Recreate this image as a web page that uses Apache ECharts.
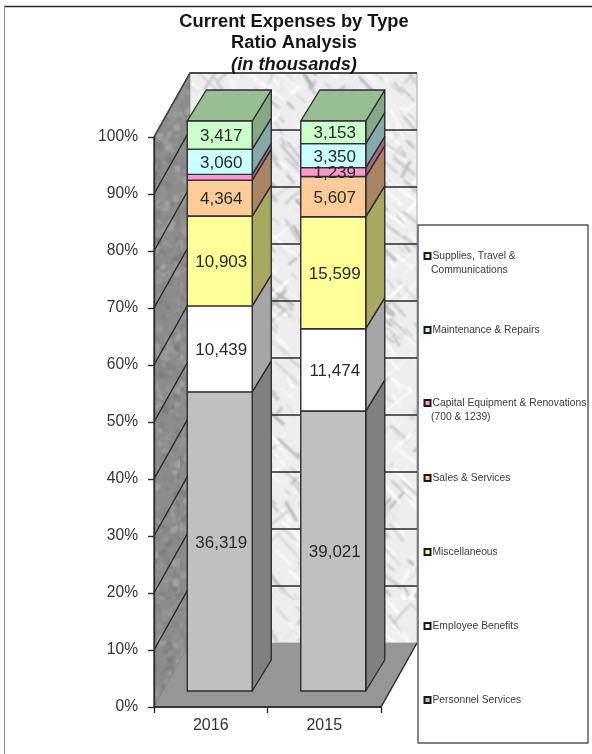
<!DOCTYPE html>
<html>
<head>
<meta charset="utf-8">
<style>html,body{margin:0;padding:0;background:#fff}#chart{width:592px;height:754px}</style>
<script src="https://cdn.jsdelivr.net/npm/echarts@6/dist/echarts.min.js"></script>
</head>
<body>
<div id="chart"></div>
<script>
// Fiscal years along the horizontal axis
const years = ['2016', '2015'];

// Amounts in thousands, one array per expense type, [2016, 2015]
const personnelServices = [36319, 39021];
const employeeBenefits = [10439, 11474];
const miscellaneous = [10903, 15599];
const salesServices = [4364, 5607];
const capitalEquipment = [700, 1239];
const maintenanceRepairs = [3060, 3350];
const suppliesTravel = [3417, 3153];

// Percent ticks on the value axis
const percentTicks = [0, 10, 20, 30, 40, 50, 60, 70, 80, 90, 100];

// Segment name, amounts, front, side colours; stacked from the floor up
const stackOrder = [
  ['Personnel Services', personnelServices, '#c0c0c0', '#808080'],
  ['Employee Benefits', employeeBenefits, '#ffffff', '#a6a6a6'],
  ['Miscellaneous', miscellaneous, '#ffff99', '#a8a862'],
  ['Sales & Services', salesServices, '#ffcc99', '#a98565'],
  ['Capital Equipment & Renovations\n(700 & 1239)', capitalEquipment, '#ff99cc', '#a96588'],
  ['Maintenance & Repairs', maintenanceRepairs, '#ccffff', '#86a8a8'],
  ['Supplies, Travel &\nCommunications', suppliesTravel, '#ccffcc', '#86a886']
];
const topFaceColor = '#98bf94';

// Legend rows, top to bottom, with the vertical centre of each first line
const legendRows = [
  ['Supplies, Travel &\nCommunications', 255],
  ['Maintenance & Repairs', 329],
  ['Capital Equipment & Renovations\n(700 & 1239)', 402],
  ['Sales & Services', 477],
  ['Miscellaneous', 551],
  ['Employee Benefits', 625],
  ['Personnel Services', 699]
];

// Oblique projection of the box: full depth of the walls, plus the bar placement inside it
const DEPTH = { x: 36, y: -64 };
const BAR_INSET = { x: 9, y: -16 };
const BAR_DEPTH = { x: 19, y: -31 };
const BAR_WIDTH = 65;
const LINE = '#2e2e2e';
const FONT = '"Liberation Sans", Arial, sans-serif';

// Small repeatable generator so the stone texture is the same on every load
function makeSequence(seed) {
  let s = seed;
  return function () {
    s = (s * 16807) % 2147483647;
    return s / 2147483647;
  };
}

// Paints a tile of veined stone used as the back wall fill
function veinedTile(width, height, base, shades, count, seed) {
  const next = makeSequence(seed);
  const tile = document.createElement('canvas');
  tile.width = width;
  tile.height = height;
  const ctx = tile.getContext('2d');
  ctx.fillStyle = base;
  ctx.fillRect(0, 0, width, height);
  ctx.filter = 'blur(1.2px)';
  ctx.lineCap = 'round';
  for (let i = 0; i < count; i++) {
    const x = next() * width;
    const y = next() * height;
    const length = 4 + next() * 18;
    const lean = 0.5 + next() * 0.9;
    const slant = next() < 0.75 ? 1 : -1;
    ctx.strokeStyle = shades[Math.floor(next() * shades.length)];
    ctx.lineWidth = 0.6 + next() * 2.4;
    ctx.beginPath();
    ctx.moveTo(x, y);
    ctx.lineTo(x + slant * length * lean, y + length);
    ctx.stroke();
  }
  return tile;
}

// Paints a tile of mottled dark stone used as the side wall fill
function mottledTile(width, height, base, shades, count, seed) {
  const next = makeSequence(seed);
  const tile = document.createElement('canvas');
  tile.width = width;
  tile.height = height;
  const ctx = tile.getContext('2d');
  ctx.fillStyle = base;
  ctx.fillRect(0, 0, width, height);
  ctx.filter = 'blur(1.3px)';
  for (let i = 0; i < count; i++) {
    ctx.fillStyle = shades[Math.floor(next() * shades.length)];
    ctx.beginPath();
    ctx.ellipse(next() * width, next() * height, 1 + next() * 4, 1 + next() * 3, next() * 3, 0, Math.PI * 2);
    ctx.fill();
  }
  return tile;
}

const backStone = veinedTile(240, 600, '#eeeef0',
  ['#bdbdc2', '#c8c8cc', '#d4d4d8', '#b3b3b8', '#ffffff', '#fbfbfb', '#ffffff'], 1100, 4711);
const sideStone = mottledTile(60, 600, '#8c8c8c',
  ['#7e7e7e', '#9a9a9a', '#858585', '#939393', '#a2a2a2'], 900, 1907);

// Running share of each year's total, in percent, for every segment
const yearTotals = years.map((_, i) => stackOrder.reduce((sum, row) => sum + row[1][i], 0));
const runningAmount = years.map(() => 0);

function poly(points, fill, z2) {
  return {
    type: 'polygon',
    z2: z2 || 0,
    shape: { points: points },
    style: { fill: fill, stroke: LINE, lineWidth: 1.4, lineJoin: 'round' }
  };
}

function segmentSeries(row, rowIndex) {
  const name = row[0], amounts = row[1], front = row[2], side = row[3];
  const data = amounts.map((amount, i) => {
    const low = runningAmount[i] / yearTotals[i] * 100;
    runningAmount[i] += amount;
    const high = runningAmount[i] / yearTotals[i] * 100;
    return [i, low, high, amount];
  });
  const isTop = rowIndex === stackOrder.length - 1;
  return {
    type: 'custom',
    name: name,
    z: 3,
    clip: false,
    silent: true,
    itemStyle: { color: front },
    encode: { x: 0, y: [1, 2] },
    data: data,
    renderItem(params, api) {
      const bottom = api.coord([api.value(0), api.value(1)]);
      const top = api.coord([api.value(0), api.value(2)]);
      const left = bottom[0] + BAR_INSET.x - BAR_WIDTH / 2;
      const right = left + BAR_WIDTH;
      const y0 = bottom[1] + BAR_INSET.y;
      const y1 = top[1] + BAR_INSET.y;
      const dx = BAR_DEPTH.x, dy = BAR_DEPTH.y;
      const children = [
        poly([[right, y1], [right + dx, y1 + dy], [right + dx, y0 + dy], [right, y0]], side),
        poly([[left, y1], [right, y1], [right, y0], [left, y0]], front, 1)
      ];
      if (isTop) {
        children.push(poly([[left, y1], [left + dx, y1 + dy], [right + dx, y1 + dy], [right, y1]], topFaceColor));
      }
      // The thin 2016 capital slice carries no printed figure
      const amount = api.value(3);
      if (amount >= 1000) {
        children.push({
          type: 'text',
          z2: 50,
          style: {
            x: (left + right) / 2 + 1.5,
            y: (y0 + y1) / 2 + 1.5,
            text: amount.toLocaleString('en-US'),
            fill: '#2b2b2b',
            font: '17px ' + FONT,
            align: 'center',
            verticalAlign: 'middle'
          }
        });
      }
      return { type: 'group', children: children };
    }
  };
}

// Back wall, side wall, floor and the gridlines that run across them
const wallSeries = {
  type: 'custom',
  name: 'walls',
  z: 1,
  clip: false,
  silent: true,
  data: [[0]],
  encode: { x: 0 },
  renderItem(params, api) {
    const band = api.size([1, 0])[0];
    const xLeft = api.coord([0, 0])[0] - band / 2;
    const xRight = xLeft + band * years.length;
    const yFloor = api.coord([0, 0])[1];
    const yRoof = api.coord([0, 100])[1];
    const dx = DEPTH.x, dy = DEPTH.y;
    const children = [
      {
        type: 'polygon',
        shape: { points: [[xLeft + dx, yRoof + dy], [xRight + dx, yRoof + dy], [xRight + dx, yFloor + dy], [xLeft + dx, yFloor + dy]] },
        style: { fill: { image: backStone, repeat: 'repeat' }, stroke: '#a8a8a8', lineWidth: 1 }
      },
      {
        type: 'polygon',
        shape: { points: [[xLeft, yRoof], [xLeft + dx, yRoof + dy], [xLeft + dx, yFloor + dy], [xLeft, yFloor]] },
        style: { fill: { image: sideStone, repeat: 'repeat' } }
      },
      {
        type: 'polyline',
        shape: { points: [[xLeft, yFloor], [xLeft, yRoof], [xLeft + dx, yRoof + dy], [xRight + dx, yRoof + dy]] },
        style: { fill: null, stroke: '#444444', lineWidth: 1.4 }
      }
    ];
    percentTicks.forEach((tick) => {
      if (tick === 0) return;
      const y = api.coord([0, tick])[1];
      children.push({
        type: 'polyline',
        shape: { points: [[xLeft, y], [xLeft + dx, y + dy], [xRight + dx, y + dy]] },
        style: { fill: null, stroke: tick === 100 ? '#444444' : '#2a2a2a', lineWidth: 1.4 }
      });
    });
    children.push({
      type: 'polygon',
      shape: { points: [[xLeft, yFloor], [xRight, yFloor], [xRight + dx, yFloor + dy], [xLeft + dx, yFloor + dy]] },
      style: { fill: '#969696' }
    });
    children.push({
      type: 'polyline',
      shape: { points: [[xLeft, yFloor], [xRight, yFloor], [xRight + dx, yFloor + dy]] },
      style: { fill: null, stroke: '#2e2e2e', lineWidth: 1.5 }
    });
    children.push({
      type: 'line',
      shape: { x1: xLeft, y1: yFloor, x2: xLeft + dx, y2: yFloor + dy },
      style: { stroke: '#7a7a7a', lineWidth: 0.8 }
    });
    return { type: 'group', children: children };
  }
};

const LEGEND_FONT = { fontFamily: FONT, fontSize: 10.3, color: '#3a3a3a' };

const legends = legendRows.map((row) => ({
  data: [row[0]],
  left: 423.5,
  top: row[1] - 4,
  padding: 0,
  itemWidth: 6,
  itemHeight: 6,
  selectedMode: false,
  icon: 'rect',
  z: 8,
  itemStyle: { borderColor: '#1a1a1a', borderWidth: 2 },
  // The wrapped second line is set separately so the swatch stays beside the first line
  formatter: (name) => name.split('\n')[0],
  textStyle: Object.assign({ padding: [0, 0, 0, -3] }, LEGEND_FONT)
}));

const legendContinuations = legendRows
  .filter((row) => row[0].includes('\n'))
  .map((row) => ({
    type: 'text',
    z: 8,
    left: 431,
    top: row[1] + 10,
    style: {
      text: row[0].split('\n')[1],
      fill: LEGEND_FONT.color,
      font: LEGEND_FONT.fontSize + 'px ' + LEGEND_FONT.fontFamily
    }
  }));

const chart = echarts.init(document.getElementById('chart'), null, { renderer: 'canvas' });
chart.setOption({
  animation: false,
  backgroundColor: '#ffffff',
  title: {
    left: 289,
    top: 6,
    textAlign: 'center',
    text: '{main|Current Expenses by Type}\n{main|Ratio Analysis}\n{note|(in thousands)}',
    textStyle: {
      rich: {
        main: { fontFamily: FONT, fontWeight: 'bold', fontSize: 18.3, lineHeight: 21.5, color: '#161616' },
        note: { fontFamily: FONT, fontWeight: 'bold', fontStyle: 'italic', fontSize: 18.3, lineHeight: 21.5, color: '#161616' }
      }
    }
  },
  legend: legends,
  grid: { left: 154, right: 211, top: 137, bottom: 47, containLabel: false },
  xAxis: {
    type: 'category',
    data: years,
    z: 5,
    boundaryGap: true,
    axisLine: { lineStyle: { color: '#2e2e2e', width: 1.5 } },
    axisTick: { show: true, alignWithLabel: false, length: 6, lineStyle: { color: '#2e2e2e', width: 1.4 } },
    axisLabel: { margin: 11, color: '#333333', fontFamily: FONT, fontSize: 16 }
  },
  yAxis: {
    type: 'value',
    min: 0,
    max: 100,
    interval: 10,
    z: 5,
    splitLine: { show: false },
    axisLine: { show: true, lineStyle: { color: '#2e2e2e', width: 1.4 } },
    axisTick: { show: true, length: 6, lineStyle: { color: '#2e2e2e', width: 1.4 } },
    axisLabel: {
      margin: 16,
      color: '#333333',
      fontFamily: FONT,
      fontSize: 15.6,
      padding: [6, 0, 0, 0],
      formatter: '{value}%'
    }
  },
  graphic: [
    // Page frame along the top and left edges
    { type: 'line', z: 0, shape: { x1: 4, y1: 6.5, x2: 592, y2: 6.5 }, style: { stroke: '#2a2a2a', lineWidth: 1.3 } },
    { type: 'line', z: 0, shape: { x1: 4.5, y1: 6, x2: 4.5, y2: 754 }, style: { stroke: '#8a8a8a', lineWidth: 1 } },
    // Legend panel
    { type: 'rect', z: 7, shape: { x: 418, y: 225, width: 170, height: 518 }, style: { fill: '#ffffff', stroke: '#555555', lineWidth: 1.4 } }
  ].concat(legendContinuations),
  series: [wallSeries].concat(stackOrder.map(segmentSeries))
});
</script>
</body>
</html>
